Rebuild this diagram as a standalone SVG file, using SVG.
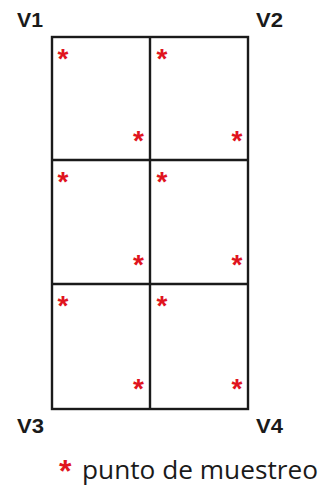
<svg xmlns="http://www.w3.org/2000/svg" width="323" height="488" viewBox="0 0 323 488">
<style>
.g{fill:none;stroke:#1a1a1a;stroke-width:2.4}
.lbl{font-family:"Liberation Sans",Arial,sans-serif;font-weight:bold;font-size:21px;fill:#1a1a1a}
.st{font-family:"Liberation Sans",Arial,sans-serif;font-weight:bold;font-size:28px;fill:#e0141e}
.leg{font-family:"Open Sans","Liberation Sans",sans-serif;font-size:26px;fill:#1a1a1a}
</style>
<rect width="323" height="488" fill="#fff"/>
<g id="grid">
<rect class="g" x="52" y="37" width="196" height="372"/>
<line class="g" x1="150" y1="37" x2="150" y2="409"/>
<line class="g" x1="52" y1="160" x2="248" y2="160"/>
<line class="g" x1="52" y1="284" x2="248" y2="284"/>
</g>
<g id="labels">
<text class="lbl" x="17" y="27" textLength="26" lengthAdjust="spacingAndGlyphs">V1</text>
<text class="lbl" x="256" y="27" textLength="27" lengthAdjust="spacingAndGlyphs">V2</text>
<text class="lbl" x="17" y="433" textLength="27" lengthAdjust="spacingAndGlyphs">V3</text>
<text class="lbl" x="256" y="433" textLength="27" lengthAdjust="spacingAndGlyphs">V4</text>
</g>
<g id="stars">
<text class="st" x="57.5" y="68">*</text>
<text class="st" x="156.5" y="68">*</text>
<text class="st" x="133" y="150">*</text>
<text class="st" x="231.5" y="150">*</text>
<text class="st" x="57.5" y="191">*</text>
<text class="st" x="156.5" y="191">*</text>
<text class="st" x="133" y="274">*</text>
<text class="st" x="231.5" y="274">*</text>
<text class="st" x="57.5" y="315">*</text>
<text class="st" x="156.5" y="315">*</text>
<text class="st" x="133" y="398">*</text>
<text class="st" x="231.5" y="398">*</text>
</g>
<g id="legend">
<text class="st" x="59" y="482" style="font-size:32px">*</text>
<text class="leg" x="82" y="479" textLength="236" lengthAdjust="spacingAndGlyphs">punto de muestreo</text>
</g>
</svg>
